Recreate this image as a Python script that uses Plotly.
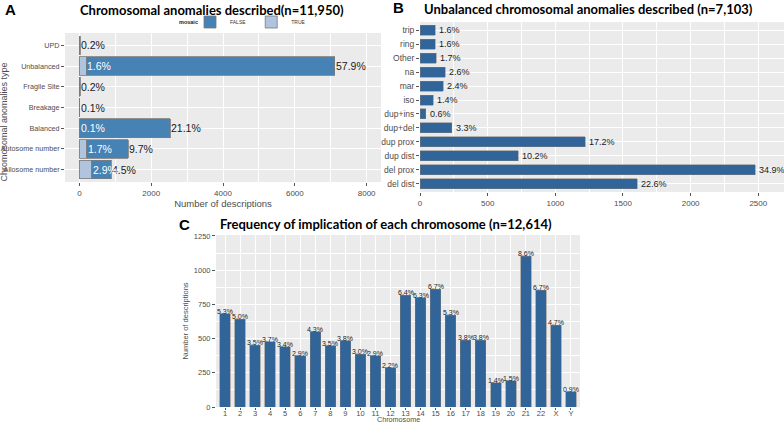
import plotly.graph_objects as go

# ---------- Panel A data ----------
A_types = ["Allosome number", "Autosome number", "Balanced", "Breakage",
           "Fragile Site", "Unbalanced", "UPD"]
A_false = [538, 1159, 2521, 12, 24, 6919, 24]
A_true = [347, 203, 12, 0, 0, 191, 0]
A_false_lbl = ["4.5%", "9.7%", "21.1%", "0.1%", "0.2%", "57.9%", "0.2%"]
A_true_lbl = ["2.9%", "1.7%", "0.1%", "", "", "1.6%", ""]
A_xticks = [0, 2000, 4000, 6000, 8000]

# ---------- Panel B data ----------
B_types = ["del dist", "del prox", "dup dist", "dup prox", "dup+del", "dup+ins",
           "iso", "mar", "na", "Other", "ring", "trip"]
B_counts = [1605, 2479, 725, 1222, 234, 43, 99, 170, 185, 121, 114, 114]
B_lbl = ["22.6%", "34.9%", "10.2%", "17.2%", "3.3%", "0.6%", "1.4%", "2.4%",
         "2.6%", "1.7%", "1.6%", "1.6%"]
B_xticks = [0, 500, 1000, 1500, 2000, 2500]

# ---------- Panel C data ----------
C_chrom = [str(i) for i in range(1, 23)] + ["X", "Y"]
C_counts = [683, 642, 452, 476, 439, 373, 549, 447, 486, 386, 373, 286,
            818, 798, 862, 671, 488, 488, 176, 193, 1103, 854, 598, 112]
C_lbl = ["5.3%", "5.0%", "3.5%", "3.7%", "3.4%", "2.9%", "4.3%", "3.5%", "3.8%",
         "3.0%", "2.9%", "2.2%", "6.4%", "6.3%", "6.7%", "5.3%", "3.8%", "3.8%",
         "1.4%", "1.5%", "8.6%", "6.7%", "4.7%", "0.9%"]
C_yticks = [0, 250, 500, 750, 1000, 1250]

W, H = 784, 424
def px(x):
    return x / W
def py(y):
    return 1 - y / H

DARK_A = "#4682B4"
LIGHT_A = "#B0C4DE"
DARK_B = "#31659A"
OUTLINE = "#7A7A7A"
TICKC = "#4D4D4D"
BG = "#EBEBEB"
FONT = "Liberation Sans, Arial, sans-serif"
TFONT = "Lato, Open Sans, sans-serif"

fig = go.Figure()

# Panel A bars (TRUE at base, FALSE stacked)
fig.add_trace(go.Bar(y=A_types, x=A_true, orientation="h", name="TRUE",
                     marker=dict(color=LIGHT_A, line=dict(color=OUTLINE, width=0.8)),
                     width=0.9, xaxis="x", yaxis="y", showlegend=True))
fig.add_trace(go.Bar(y=A_types, x=A_false, orientation="h", name="FALSE",
                     marker=dict(color=DARK_A, line=dict(color=OUTLINE, width=0.8)),
                     width=0.9, xaxis="x", yaxis="y", showlegend=True))

# Panel B bars
fig.add_trace(go.Bar(y=B_types, x=B_counts, orientation="h",
                     marker=dict(color=DARK_B, line=dict(color=OUTLINE, width=0.5)),
                     width=0.72, xaxis="x2", yaxis="y2", showlegend=False))

# Panel C bars
fig.add_trace(go.Bar(x=C_chrom, y=C_counts,
                     marker=dict(color=DARK_B, line=dict(color=OUTLINE, width=0.5)),
                     width=0.7, xaxis="x3", yaxis="y3", showlegend=False))

ann = []
# Panel A labels (category index used for position)
for i, (f, tr, lf, lt) in enumerate(zip(A_false, A_true, A_false_lbl, A_true_lbl)):
    ann.append(dict(x=f + tr, y=i, xref="x", yref="y", text=lf, showarrow=False,
                    xanchor="left", yanchor="middle", xshift=-1,
                    font=dict(family=FONT, size=10.5, color="#1A1A1A")))
    if lt:
        ann.append(dict(x=tr, y=i, xref="x", yref="y", text=lt, showarrow=False,
                        xanchor="left", yanchor="middle", xshift=-1,
                        font=dict(family=FONT, size=10.5, color="white")))
# Panel B labels
for i, (c, l) in enumerate(zip(B_counts, B_lbl)):
    ann.append(dict(x=c, y=i, xref="x2", yref="y2", text=l, showarrow=False,
                    xanchor="left", yanchor="middle", xshift=2,
                    font=dict(family=FONT, size=9, color="#1A1A1A")))
# Panel C labels
for i, (c, l) in enumerate(zip(C_counts, C_lbl)):
    ann.append(dict(x=i, y=c, xref="x3", yref="y3", text=l, showarrow=False,
                    xanchor="center", yanchor="bottom", yshift=-3,
                    font=dict(family=FONT, size=7, color="#1A1A1A")))

# Titles, axis titles, legend title and panel letters
ann += [
    dict(x=px(212), y=py(10), xref="paper", yref="paper", showarrow=False,
         text="<b>Chromosomal anomalies described(n=11,950)</b>",
         font=dict(family=TFONT, size=13, color="black"), xanchor="center", yanchor="middle"),
    dict(x=px(588), y=py(9), xref="paper", yref="paper", showarrow=False,
         text="<b>Unbalanced chromosomal anomalies described (n=7,103)</b>",
         font=dict(family=TFONT, size=13, color="black"), xanchor="center", yanchor="middle"),
    dict(x=px(386), y=py(224), xref="paper", yref="paper", showarrow=False,
         text="<b>Frequency of implication of each chromosome (n=12,614)</b>",
         font=dict(family=TFONT, size=13, color="black"), xanchor="center", yanchor="middle"),
    dict(x=px(3.5), y=py(122), xref="paper", yref="paper", showarrow=False,
         text="Chromosomal anomalies type", textangle=-90,
         font=dict(family=FONT, size=9, color=TICKC), xanchor="center", yanchor="middle"),
    dict(x=px(398), y=py(419.5), xref="paper", yref="paper", showarrow=False,
         text="Chromosome",
         font=dict(family=FONT, size=7.2, color=TICKC), xanchor="center", yanchor="middle"),
    dict(x=px(200), y=py(22), xref="paper", yref="paper", showarrow=False,
         text="<b>mosaic</b>",
         font=dict(family=FONT, size=5.5, color="#222"), xanchor="right", yanchor="middle"),
    dict(x=px(10), y=py(9), xref="paper", yref="paper", showarrow=False, text="<b>A</b>",
         font=dict(family=FONT, size=15, color="black"), xanchor="center", yanchor="middle"),
    dict(x=px(398), y=py(8), xref="paper", yref="paper", showarrow=False, text="<b>B</b>",
         font=dict(family=FONT, size=15, color="black"), xanchor="center", yanchor="middle"),
    dict(x=px(184), y=py(224), xref="paper", yref="paper", showarrow=False, text="<b>C</b>",
         font=dict(family=FONT, size=15, color="black"), xanchor="center", yanchor="middle"),
]

axcommon = dict(showline=False, zeroline=False, gridcolor="white", gridwidth=1,
                ticks="outside", ticklen=3, tickcolor="#555555", tickwidth=0.6,
                automargin=False)

fig.update_layout(
    width=W, height=H, margin=dict(l=0, r=0, t=0, b=0, autoexpand=False),
    paper_bgcolor="white", plot_bgcolor=BG, barmode="stack",
    annotations=ann,
    showlegend=True,
    legend=dict(orientation="h", x=px(190), y=py(22), xanchor="left", yanchor="middle",
                traceorder="reversed", font=dict(family=FONT, size=5, color="#333"),
                bgcolor="rgba(0,0,0,0)", itemwidth=30, tracegroupgap=0,
                borderwidth=0),
    # Panel A
    xaxis=dict(domain=[px(65), px(381)], anchor="y", range=[-400, 8400],
               tickvals=A_xticks, ticktext=[str(v) for v in A_xticks],
               minor=dict(tickvals=[1000, 3000, 5000, 7000], showgrid=True,
                          gridcolor="white", gridwidth=0.5, ticks=""),
               title=dict(text="Number of descriptions", standoff=2,
                          font=dict(family=FONT, size=9.5, color=TICKC)),
               tickfont=dict(family=FONT, size=8, color=TICKC),
               **axcommon),
    yaxis=dict(domain=[py(182), py(33)], anchor="x", range=[-0.6, 6.6],
               type="category", categoryorder="array", categoryarray=A_types,
               tickfont=dict(family=FONT, size=7.2, color=TICKC),
               **axcommon),
    # Panel B
    xaxis2=dict(domain=[px(420), px(784)], anchor="y2", range=[0, 2690],
                tickvals=B_xticks, ticktext=[str(v) for v in B_xticks],
                minor=dict(tickvals=[250, 750, 1250, 1750, 2250], showgrid=True,
                           gridcolor="white", gridwidth=0.5, ticks=""),
                tickfont=dict(family=FONT, size=8, color=TICKC),
                **axcommon),
    yaxis2=dict(domain=[py(192), py(22)], anchor="x2", range=[-0.6, 11.6],
                type="category", categoryorder="array", categoryarray=B_types,
                tickfont=dict(family=FONT, size=8.5, color=TICKC),
                **axcommon),
    # Panel C
    xaxis3=dict(domain=[px(216), px(580)], anchor="y3", range=[-0.6, 23.6],
                type="category", categoryorder="array", categoryarray=C_chrom,
                tickfont=dict(family=FONT, size=7.5, color=TICKC),
                ticklabelstandoff=-3,
                **{**axcommon, "ticklen": 2}),
    yaxis3=dict(domain=[py(407), py(235)], anchor="x3", range=[0, 1257],
                tickvals=C_yticks, ticktext=[str(v) for v in C_yticks],
                minor=dict(tickvals=[125, 375, 625, 875, 1125], showgrid=True,
                           gridcolor="white", gridwidth=0.5, ticks=""),
                title=dict(text="Number of descriptions", standoff=4,
                           font=dict(family=FONT, size=7.5, color=TICKC)),
                tickfont=dict(family=FONT, size=7.5, color=TICKC),
                **axcommon),
)

fig.write_html("out.html", config={"displayModeBar": False},
               post_script="document.body.style.margin='0';document.body.style.overflow='hidden';")
